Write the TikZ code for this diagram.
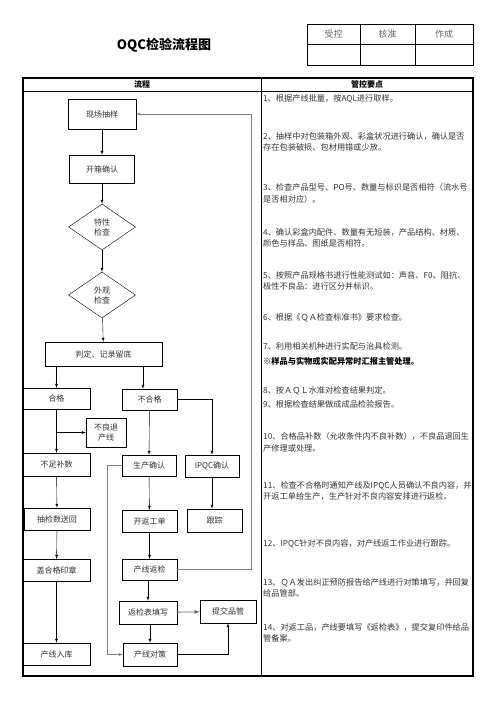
\documentclass[tikz,border=0pt]{standalone}
\usepackage{fontspec}
\setmainfont{Noto Sans CJK SC}
\usepackage{tikz}
\usetikzlibrary{arrows,positioning,shapes.geometric}
\pgfdeclarelayer{background layer}
\pgfsetlayers{background layer,main}
\definecolor{gray2}{gray}{0.2}
\definecolor{gray4}{gray}{0.4}
\definecolor{gray5}{gray}{0.5}

\begin{document}
\begin{tikzpicture}
[x=1pt,y=-1pt,>=latex,font=\fontsize{8}{10}\selectfont]
\tikzstyle{plain}=[draw,fill=white,inner sep=0pt,align=center,text=gray2]
\tikzstyle{dia}=[plain,diamond]
\tikzstyle{note}=[anchor=north west,inner sep=0pt,align=left,text=gray2,font=\fontsize{8.2}{11.3}\selectfont]
\tikzstyle{head}=[inner sep=0pt,font=\fontsize{8}{10}\bfseries]
\useasboundingbox (0,0) rectangle (496,702);

\node [inner sep=0pt,font=\fontsize{13}{15}\bfseries] (title) at (164,45) {OQC检验流程图};
\node [inner sep=0pt,text=gray4,font=\fontsize{9}{11}\selectfont] (sk) at (333.5,34) {受控};
\node [inner sep=0pt,text=gray4,font=\fontsize{9}{11}\selectfont] (hz) at (387.5,34) {核准};
\node [inner sep=0pt,text=gray4,font=\fontsize{9}{11}\selectfont] (zc) at (444,34) {作成};
\node [head] (lc) at (142,84.5) {流程};
\node [head] (gk) at (367,84.5) {管控要点};

% flow
\draw node [plain,minimum width=68,minimum height=30] (xc) at (102,114) {现场抽样};
\draw node [plain,minimum width=65,minimum height=28] (kx) at (102,169) {开箱确认};
\draw node [dia,minimum width=67,minimum height=46] (tx) at (102,227) {特性\\检查};
\draw node [dia,minimum width=67,minimum height=46] (wg) at (102,295) {外观\\检查};
\draw node [plain,minimum width=117,minimum height=24] (pd) at (103.5,354) {判定、记录留底};

\draw node [plain,minimum width=67,minimum height=21] (hg) at (56.5,398.5) {合格};
\draw node [plain,minimum width=55,minimum height=21] (bhg) at (149.5,399.5) {不合格};
\draw node [plain,minimum width=40,minimum height=29] (bl) at (106,432.5) {不良退\\产线};
\draw node [plain,minimum width=67,minimum height=23] (bz) at (56.5,464.5) {不足补数};
\draw node [plain,minimum width=54,minimum height=21] (sc) at (149,465.5) {生产确认};
\draw node [plain,minimum width=54,minimum height=22] (ipqc) at (212,466) {IPQC确认};
\draw node [plain,minimum width=66,minimum height=22] (cj) at (57,519) {抽检数送回};
\draw node [plain,minimum width=55,minimum height=22] (kf) at (149.5,521) {开返工单};
\draw node [plain,minimum width=55,minimum height=23] (gz) at (214.5,520.5) {跟踪};
\draw node [plain,minimum width=67,minimum height=22] (gy) at (56.5,570) {盖合格印章};
\draw node [plain,minimum width=55,minimum height=21] (fj) at (149.5,569.5) {产线返检};
\draw node [plain,minimum width=58,minimum height=23] (bt) at (148,612.5) {返检表填写};
\draw node [plain,minimum width=56,minimum height=23] (tj) at (228,611.5) {提交品管};
\draw node [plain,minimum width=54,minimum height=23] (dc) at (150,654.5) {产线对策};
\draw node [plain,minimum width=67,minimum height=22] (rk) at (56.5,654) {产线入库};

\draw [->] (xc) -- (kx);
\draw [->] (kx) -- (tx);
\draw [->] (tx) -- (wg);
\draw [->] (wg) -- (pd);
\draw [->] (pd.south -| hg.north) -- (hg.north);
\draw [->] ([xshift=-6.5]bhg.north |- pd.south) -- ([xshift=-6.5]bhg.north);
\draw [->] (hg) -- (bz);
\draw [->] (hg.south |- bl.west) -- (bl.west);
\draw [->] (bz) -- (cj);
\draw [->] (cj) -- (gy);
\draw [->] (gy) -- (rk);
\draw [->] (bhg) -- (sc);
\draw [->] (bhg.east) -| (ipqc.north);
\draw [->] (ipqc.south) -- (ipqc.south |- gz.north);
\draw [->] (sc) -- (kf);
\draw [->] (kf) -- (fj);
\draw [->] (fj.south -| bt.north) -- (bt.north);
\draw [->] (bt.south -| dc.north) -- (dc.north);
\draw [->,thick,gray4] (bt) -- (tj);
\draw [->] (dc.east) -| (tj.south);
\draw [->,gray5] (sc.west) -- ++(-15,0) |- (dc.west);
\draw [->,gray5] (fj.east) -- ++(74,0) |- (xc.east);

% notes
\node [note] (t1) at (263,94.5) {1、根据产线批量，按AQL进行取样。};
\node [note] (t2) at (263,132.5) {2、抽样中对包装箱外观、彩盒状况进行确认，确认是否\\存在包装破损、包材用错或少放。};
\node [note] (t3) at (263,183.5) {3、检查产品型号、PO号、数量与标识是否相符（流水号\\是否相对应）。};
\node [note] (t4) at (263,228.5) {4、确认彩盒内配件、数量有无短装，产品结构、材质、\\颜色与样品、图纸是否相符。};
\node [note] (t5) at (263,271.5) {5、按照产品规格书进行性能测试如：声音、F0、阻抗、\\极性不良品：进行区分并标识。};
\node [note] (t6) at (263,313.5) {6、根据《ＱＡ检查标准书》要求检查。};
\node [note] (t7) at (263,342.5) {7、利用相关机种进行实配与治具检测。};
\node [note,text=black,font=\fontsize{8.2}{11.3}\bfseries] (tn) at (263,357.5) {※样品与实物或实配异常时汇报主管处理。};
\node [note] (t8) at (263,386.5) {8、按ＡＱＬ水准对检查结果判定。};
\node [note] (t9) at (263,400.5) {9、根据检查结果做成成品检验报告。};
\node [note] (t10) at (263,432.5) {10、合格品补数（允收条件内不良补数），不良品退回生\\产修理或处理。};
\node [note] (t11) at (263,481.5) {11、检查不合格时通知产线及IPQC人员确认不良内容，并\\开返工单给生产，生产针对不良内容安排进行返检。};
\node [note] (t12) at (263,539.5) {12、IPQC针对不良内容，对产线返工作业进行跟踪。};
\node [note] (t13) at (263,578.5) {13、ＱＡ发出纠正预防报告给产线进行对策填写，并回复\\给品管部。};
\node [note] (t14) at (263,623.5) {14、对返工品，产线要填写《返检表》，提交复印件给品\\管备案。};

\begin{pgfonlayer}{background layer}
\draw (307,24) rectangle (473,65);
\draw (307,44) -- (473,44);
\draw (360,24) -- (360,65);
\draw (415,24) -- (415,65);
\draw [line width=1.2] (23,78) rectangle (473,676);
\draw [line width=2] (23,78) -- (23,676) -- (473,676);
\draw [line width=1] (23,91) -- (473,91);
\draw (261,78) -- (261,676);
\end{pgfonlayer}

\end{tikzpicture}
\end{document}
